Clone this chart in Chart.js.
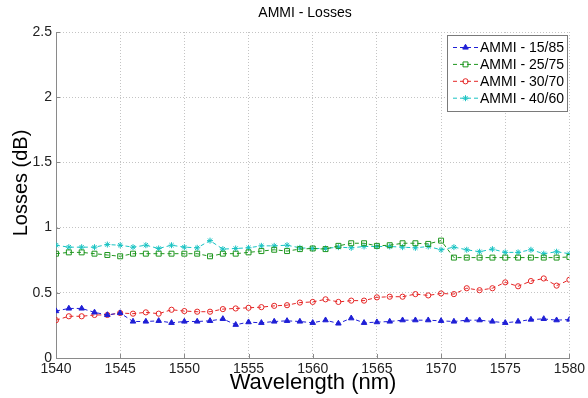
<!DOCTYPE html>
<html><head><meta charset="utf-8">
<script src="https://cdn.jsdelivr.net/npm/chart.js@4.4.0/dist/chart.umd.min.js"></script>
<style>html,body{margin:0;padding:0;background:#fff;overflow:hidden}#wrap{width:588px;height:398px;position:relative}</style>
</head><body><div id="wrap"><canvas id="c" width="588" height="398"></canvas></div>
<script>
const wavelengths = [1540,1541,1542,1543,1544,1545,1546,1547,1548,1549,1550,1551,1552,1553,1554,1555,1556,1557,1558,1559,1560,1561,1562,1563,1564,1565,1566,1567,1568,1569,1570,1571,1572,1573,1574,1575,1576,1577,1578,1579,1580];
const ammi1585 = [0.36,0.38,0.38,0.35,0.33,0.345,0.28,0.28,0.285,0.27,0.28,0.28,0.285,0.30,0.255,0.275,0.27,0.28,0.285,0.28,0.27,0.29,0.265,0.305,0.27,0.275,0.28,0.29,0.29,0.29,0.285,0.28,0.29,0.29,0.28,0.27,0.28,0.295,0.30,0.29,0.295];
const ammi2575 = [0.80,0.81,0.81,0.80,0.79,0.78,0.80,0.80,0.80,0.80,0.80,0.80,0.78,0.80,0.80,0.81,0.82,0.83,0.82,0.835,0.84,0.835,0.86,0.88,0.88,0.86,0.865,0.88,0.88,0.875,0.90,0.77,0.77,0.77,0.77,0.77,0.77,0.77,0.77,0.77,0.775];
const ammi3070 = [0.29,0.32,0.32,0.33,0.33,0.345,0.34,0.35,0.34,0.37,0.36,0.355,0.355,0.375,0.38,0.385,0.39,0.40,0.405,0.425,0.43,0.45,0.43,0.44,0.44,0.465,0.47,0.47,0.49,0.48,0.495,0.49,0.535,0.52,0.535,0.58,0.55,0.59,0.61,0.555,0.60];
const ammi4060 = [0.865,0.85,0.85,0.85,0.87,0.865,0.85,0.865,0.84,0.865,0.85,0.845,0.90,0.835,0.84,0.845,0.86,0.86,0.865,0.845,0.84,0.84,0.85,0.845,0.855,0.855,0.855,0.85,0.845,0.855,0.83,0.85,0.83,0.815,0.835,0.81,0.81,0.83,0.80,0.815,0.80];
const seriesLabels = ['AMMI - 15/85','AMMI - 25/75','AMMI - 30/70','AMMI - 40/60'];
const xTicks = [1540,1545,1550,1555,1560,1565,1570,1575,1580];
const yTicks = [0,0.5,1,1.5,2,2.5];
const chartTitle = 'AMMI - Losses';
const xTitle = 'Wavelength (nm)';
const yTitle = 'Losses (dB)';

const FONT = "'Liberation Sans', Arial, sans-serif";
const toPts = arr => arr.map((v,i)=>({x:wavelengths[i], y:v}));
const mk = (label, data, color, style, radius, fill) => ({
  label, data: toPts(data), borderColor: color, backgroundColor: color,
  borderWidth: 1, borderDash: [4,3], pointStyle: style, pointRadius: radius,
  pointBackgroundColor: fill, pointBorderColor: color, pointBorderWidth: 1,
  tension: 0, fill: false
});
const datasets = [
  mk(seriesLabels[0], ammi1585, '#1f1fd6', 'triangle', 3.2, '#1f1fd6'),
  mk(seriesLabels[1], ammi2575, '#1e961e', 'rect', 3.5, 'rgba(255,255,255,0)'),
  mk(seriesLabels[2], ammi3070, '#e52626', 'circle', 2.6, 'rgba(255,255,255,0)'),
  mk(seriesLabels[3], ammi4060, '#19c3c3', 'star', 3, '#19c3c3')
];

const decor = {
  id: 'decor',
  afterDatasetsDraw(chart) {
    const ctx = chart.ctx, xs = chart.scales.x, ys = chart.scales.y, a = chart.chartArea;
    ctx.save();
    // inward tick marks
    ctx.strokeStyle = '#8a8a8a'; ctx.lineWidth = 1; ctx.setLineDash([]);
    xTicks.forEach(v => { const px = Math.round(xs.getPixelForValue(v)) + 0.5;
      ctx.beginPath(); ctx.moveTo(px, a.bottom); ctx.lineTo(px, a.bottom - 4); ctx.stroke(); });
    yTicks.forEach(v => { const py = Math.round(ys.getPixelForValue(v)) + 0.5;
      ctx.beginPath(); ctx.moveTo(a.left, py); ctx.lineTo(a.left + 4, py); ctx.stroke(); });
    // legend
    const bx = 447.5, by = 35.5, bw = 120, bh = 76;
    ctx.fillStyle = '#fff'; ctx.fillRect(bx, by, bw, bh);
    ctx.strokeStyle = '#7a7a7a'; ctx.strokeRect(bx, by, bw, bh);
    chart.data.datasets.forEach((ds, i) => {
      const y = 47.5 + i * 16.9;
      ctx.strokeStyle = ds.borderColor; ctx.lineWidth = 1; ctx.setLineDash([4,3]);
      ctx.beginPath(); ctx.moveTo(453, y); ctx.lineTo(478, y); ctx.stroke();
      ctx.setLineDash([]);
      ctx.fillStyle = ds.pointBackgroundColor; ctx.strokeStyle = ds.borderColor; ctx.lineWidth = 1;
      Chart.helpers.drawPoint(ctx, {pointStyle: ds.pointStyle, radius: ds.pointRadius, rotation: 0, borderWidth: 1}, 465.5, y);
      ctx.fillStyle = '#000'; ctx.font = '14px ' + FONT; ctx.textAlign = 'left'; ctx.textBaseline = 'middle';
      ctx.fillText(ds.label, 480, y + 0.5);
    });
    // titles
    ctx.fillStyle = '#000'; ctx.textAlign = 'center'; ctx.textBaseline = 'middle';
    ctx.font = '14px ' + FONT;
    ctx.fillText(chartTitle, 305, 13);
    ctx.font = '22px ' + FONT; ctx.textBaseline = 'alphabetic';
    ctx.fillText(xTitle, 313, 389);
    ctx.save(); ctx.translate(27, 183); ctx.rotate(-Math.PI/2);
    ctx.font = '20px ' + FONT; ctx.fillText(yTitle, 0, 0); ctx.restore();
    ctx.restore();
  }
};

new Chart(document.getElementById('c'), {
  type: 'line',
  data: { datasets },
  options: {
    responsive: false, animation: false, devicePixelRatio: 1,
    layout: { padding: { top: 32, right: 15, left: 0, bottom: 0 } },
    plugins: { legend: { display: false }, title: { display: false }, tooltip: { enabled: false } },
    scales: {
      x: {
        type: 'linear', min: 1540, max: 1580,
        afterBuildTicks: s => { s.ticks = xTicks.map(v => ({value: v})); },
        afterFit: s => { s.height = 40; },
        ticks: { padding: 3, color: '#222', font: { family: FONT, size: 14 }, callback: v => String(v), maxRotation: 0, autoSkip: false },
        grid: { color: '#c4c4c4', lineWidth: 1, drawTicks: false },
        border: { display: true, color: '#8a8a8a', dash: [1,2] }
      },
      y: {
        type: 'linear', min: 0, max: 2.5,
        afterBuildTicks: s => { s.ticks = yTicks.map(v => ({value: v})); },
        afterFit: s => { s.width = 56; },
        ticks: { padding: 4, color: '#222', font: { family: FONT, size: 14 }, callback: v => String(v) },
        grid: { color: '#c4c4c4', lineWidth: 1, drawTicks: false },
        border: { display: true, color: '#8a8a8a', dash: [1,2] }
      }
    }
  },
  plugins: [decor]
});
</script></body></html>
